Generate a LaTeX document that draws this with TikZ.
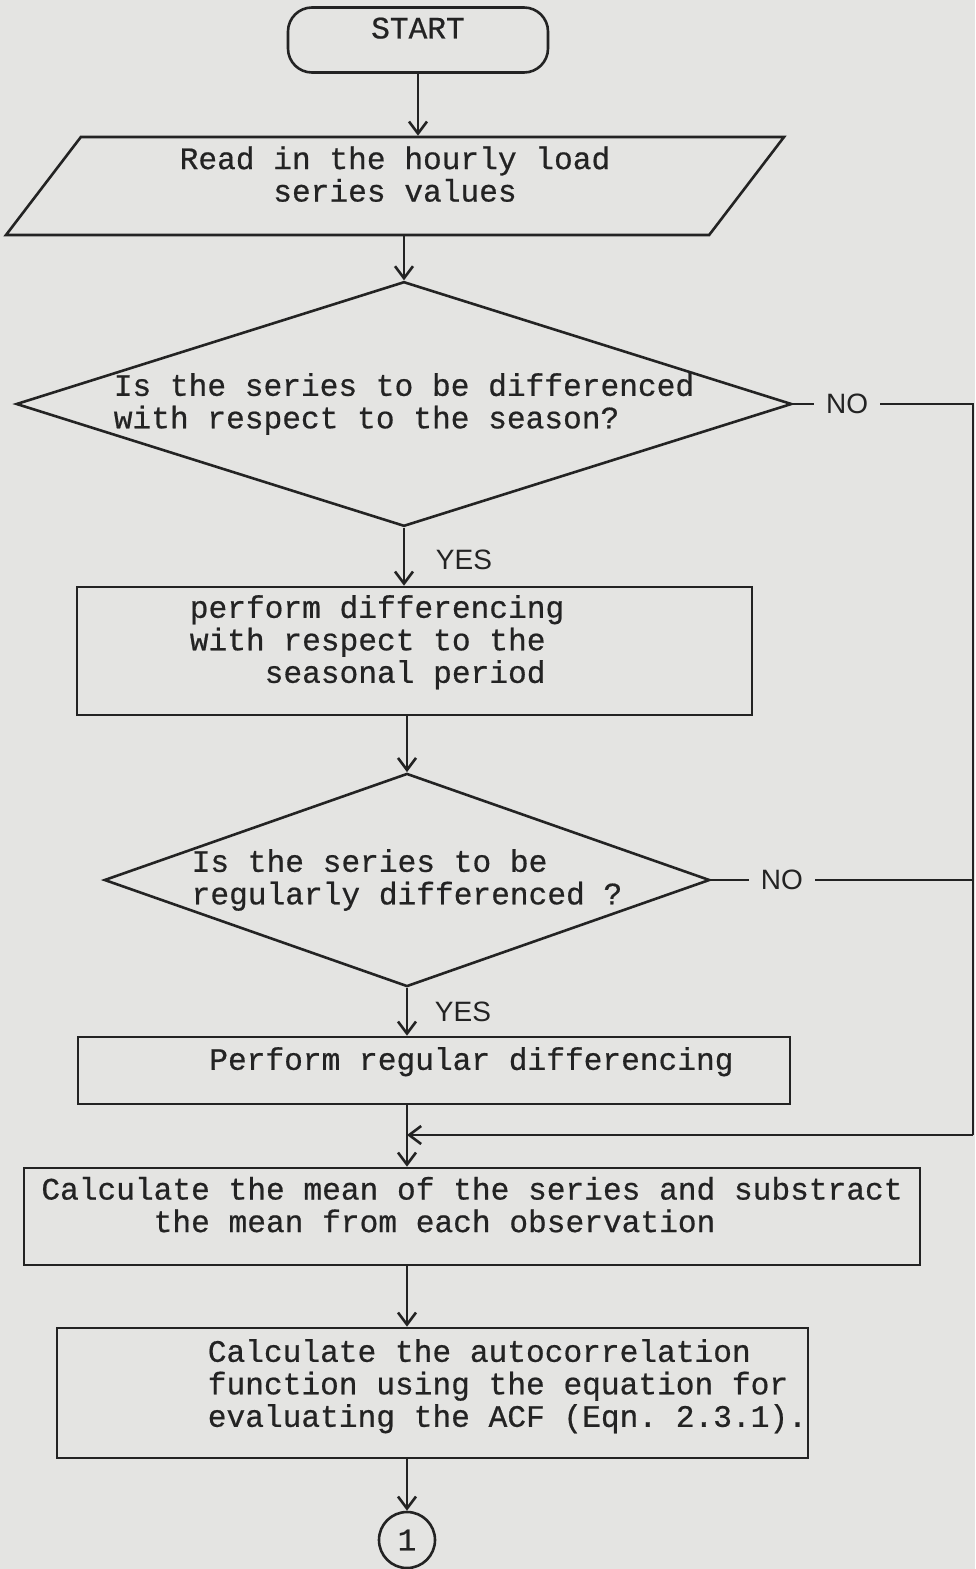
\documentclass[tikz,border=0pt]{standalone}
\usepackage{fontspec}
\setmonofont{Liberation Mono}[FakeBold=0.6]
\newfontfamily\answerfont{Liberation Sans}
\usetikzlibrary{arrows.meta, positioning, shapes.geometric}

\definecolor{paper}{RGB}{228,228,226}
\definecolor{ink}{RGB}{35,35,35}

\begin{document}
\begin{tikzpicture}[
		x=0.5pt, y=-0.5pt,
		every node/.style={font=\ttfamily\fontsize{15.6}{16.25}\selectfont, text=ink},
		line/.style={draw=ink, line width=1.3pt},
		arrow/.style={line, -{Straight Barb[length=6pt, width=9pt]}},
		terminal/.style={line, rectangle, rounded corners=12pt, minimum width=130pt, minimum height=32.5pt, text depth=12pt},
		io/.style={line, trapezium, trapezium left angle=51, trapezium right angle=129, trapezium stretches body, minimum height=49pt, align=center, text depth=12pt},
		decision/.style={line, diamond, inner sep=0pt, align=left},
		process/.style={line, rectangle, inner xsep=0pt, align=left, text depth=12pt},
		answer/.style={font=\answerfont\fontsize{14}{14}\selectfont},
		no/.style={answer, fill=paper, inner xsep=6pt}
		]
		\path[use as bounding box, fill=paper] (0,0) rectangle (975,1569);
		
		% Nodes
		\node[terminal] (start) at (418, 40) {START};
		\node[io, minimum width=389pt] (read) at (395, 186) {Read in the hourly load\\series values};
		\node[decision, aspect=3.17, minimum width=386pt, minimum height=122pt] (q1) at (404, 404) {Is the series to be differenced\\with respect to the season?};
		\node[process, minimum width=337.5pt, minimum height=64pt] (season) at (414.5, 651) {perform differencing\hspace*{2.4em}\\with respect to the\\\hspace*{2.4em}seasonal period};
		\node[decision, aspect=2.84, minimum width=295.5pt, minimum height=104pt] (q2) at (407, 880) {Is the series to be\\regularly differenced ?};
		\node[process, minimum width=356pt, minimum height=33.5pt] (regular) at (434, 1070.5) {\hspace*{2.4em}Perform regular differencing};
		\node[process, minimum width=448pt, minimum height=48.5pt] (mean) at (472, 1216.5) {Calculate the mean of the series and substract\\\hspace*{3.6em}the mean from each observation};
		\node[process, minimum width=375.5pt, minimum height=65pt, text depth=10pt] (acf) at (432.5, 1393) {\hspace*{4.8em}Calculate the autocorrelation\\\hspace*{4.8em}function using the equation for\\\hspace*{4.8em}evaluating the ACF (Eqn. 2.3.1).};
		\node[line, circle, minimum size=28pt, inner sep=0pt] (conn) at (407, 1540) {1};
		
		\coordinate (join) at (407, 1135);
		\coordinate (rgt) at (973, 1135);
		
		% Main flow
		\draw[arrow] (start.south) -- (start.south |- read.north);
		\draw[arrow] (q1.north |- read.south) -- (q1.north);
		\draw[arrow] (q1.south) -- node[answer, pos=0.55, right=12pt] {YES} (q1.south |- season.north);
		\draw[arrow] (q2.north |- season.south) -- (q2.north);
		\draw[arrow] (q2.south) -- node[answer, pos=0.5, right=10pt] {YES} (q2.south |- regular.north);
		\draw[line] (join |- regular.south) -- (join);
		\draw[arrow] (join) -- (join |- mean.north);
		\draw[arrow] (join |- mean.south) -- (join |- acf.north);
		\draw[arrow] (conn.north |- acf.south) -- (conn.north);
		
		% NO branches back to the mean step
		\draw[line] (q1.east) -- node[no, pos=0.3] {NO} (q1.east -| rgt) -- (rgt);
		\draw[line] (q2.east) -- node[no, pos=0.27] {NO} (q2.east -| rgt);
		\draw[arrow] (rgt) -- (join);
		
	\end{tikzpicture}
\end{document}
